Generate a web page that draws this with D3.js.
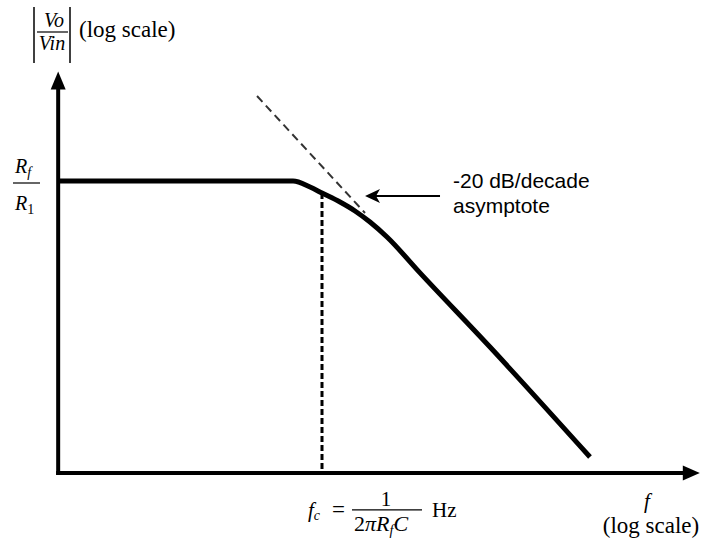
<!DOCTYPE html>
<html>
<head>
<meta charset="utf-8">
<script src="https://d3js.org/d3.v7.min.js"></script>
<style>
  body { margin: 0; background: #fff; }
  .math { font-family: "Liberation Serif", "Times New Roman", serif; fill: #000; }
  .note { font-family: "Liberation Sans", Arial, sans-serif; fill: #000; }
</style>
</head>
<body>
<svg id="chart" width="701" height="540"></svg>
<script>
// frequency (Hz) and gain (ratio to Rf/R1)
const curveF    = [2.3, 513, 759, 1000, 1514, 2138, 3020, 4467, 9550, 47860, 478600];
const curveGain = [1,   1,   0.880, 0.774, 0.639, 0.528, 0.417, 0.303, 0.141, 0.0290, 0.00278];

// -20 dB/decade asymptote (dashed)
const asymF    = [224, 2692];
const asymGain = [6.12, 0.506];

// corner frequency
const fc = 1000;
const fcGain = 0.774;

// axis extents
const axisF    = [2.3, 6.0e6];
const axisGain = [0.00198, 10.3];

// annotation arrow
const noteF = [15140, 2692];
const noteGain = 0.726;

const svg = d3.select("#chart");

// log-log scales: 100 px per decade on f, 108 px per decade on gain
const x = d3.scaleLog().domain([100, 10000]).range([222, 422]);
const y = d3.scaleLog().domain([0.01, 1]).range([397, 181]);

const x0 = x(axisF[0]), x1 = x(axisF[1]);
const y0 = y(axisGain[0]), y1 = y(axisGain[1]);

// axes
svg.append("line")
  .attr("x1", x0).attr("y1", y0 + 2)
  .attr("x2", x0).attr("y2", y1 + 14)
  .attr("stroke", "#000").attr("stroke-width", 4);
svg.append("path")
  .attr("d", `M${x0},${y1} L${x0 - 7.5},${y1 + 18} L${x0 + 7.5},${y1 + 18} Z`)
  .attr("fill", "#000");

svg.append("line")
  .attr("x1", x0 - 2).attr("y1", y0)
  .attr("x2", x1 - 14).attr("y2", y0)
  .attr("stroke", "#000").attr("stroke-width", 4);
svg.append("path")
  .attr("d", `M${x1},${y0} L${x1 - 17},${y0 - 7.5} L${x1 - 17},${y0 + 7.5} Z`)
  .attr("fill", "#000");

// asymptote
svg.append("line")
  .attr("x1", x(asymF[0])).attr("y1", y(asymGain[0]))
  .attr("x2", x(asymF[1])).attr("y2", y(asymGain[1]))
  .attr("stroke", "#333").attr("stroke-width", 2)
  .attr("stroke-dasharray", "8,5");

// corner frequency marker
svg.append("line")
  .attr("x1", x(fc)).attr("y1", y(fcGain))
  .attr("x2", x(fc)).attr("y2", y0 - 2)
  .attr("stroke", "#000").attr("stroke-width", 3)
  .attr("stroke-dasharray", "6,3");

// response curve
const pts = curveF.map((f, i) => [f, curveGain[i]]);
svg.append("path")
  .datum(pts)
  .attr("d", d3.line().x(d => x(d[0])).y(d => y(d[1])).curve(d3.curveMonotoneX))
  .attr("fill", "none")
  .attr("stroke", "#000")
  .attr("stroke-width", 5)
  .attr("stroke-linejoin", "round");

// annotation arrow
const ax1 = x(noteF[0]), ax2 = x(noteF[1]), ay = y(noteGain);
svg.append("line")
  .attr("x1", ax1).attr("y1", ay)
  .attr("x2", ax2 + 8).attr("y2", ay)
  .attr("stroke", "#000").attr("stroke-width", 2);
svg.append("path")
  .attr("d", `M${ax2},${ay} L${ax2 + 15},${ay - 7} L${ax2 + 11},${ay} L${ax2 + 15},${ay + 7} Z`)
  .attr("fill", "#000");

svg.append("text").attr("class", "note")
  .attr("x", ax1 + 13).attr("y", ay - 8)
  .attr("font-size", 21).text("-20 dB/decade");
svg.append("text").attr("class", "note")
  .attr("x", ax1 + 13).attr("y", ay + 17)
  .attr("font-size", 21).text("asymptote");

// y label |Vo/Vin| (log scale)
svg.append("line").attr("x1", 34).attr("x2", 34).attr("y1", 7).attr("y2", 63)
  .attr("stroke", "#000").attr("stroke-width", 1.5);
svg.append("line").attr("x1", 70).attr("x2", 70).attr("y1", 7).attr("y2", 63)
  .attr("stroke", "#000").attr("stroke-width", 1.5);
svg.append("line").attr("x1", 37).attr("x2", 68).attr("y1", 32).attr("y2", 32)
  .attr("stroke", "#000").attr("stroke-width", 1.2);
svg.append("text").attr("class", "math").attr("font-style", "italic")
  .attr("font-size", 20).attr("x", 54).attr("y", 27).attr("text-anchor", "middle").text("Vo");
svg.append("text").attr("class", "math").attr("font-style", "italic")
  .attr("font-size", 20).attr("x", 52).attr("y", 50).attr("text-anchor", "middle").text("Vin");
svg.append("text").attr("class", "math")
  .attr("font-size", 23).attr("x", 79).attr("y", 37).text("(log scale)");

// Rf / R1 at the pass-band level
const gy = y(1);
svg.append("line").attr("x1", 13).attr("x2", 40).attr("y1", gy + 2).attr("y2", gy + 2)
  .attr("stroke", "#000").attr("stroke-width", 1.2);
const rf = svg.append("text").attr("class", "math").attr("font-size", 20)
  .attr("x", 15).attr("y", gy - 8);
rf.append("tspan").attr("font-style", "italic").text("R");
rf.append("tspan").attr("font-style", "italic").attr("font-size", 14).attr("dy", 4).text("f");
const r1 = svg.append("text").attr("class", "math").attr("font-size", 20)
  .attr("x", 15).attr("y", gy + 29);
r1.append("tspan").attr("font-style", "italic").text("R");
r1.append("tspan").attr("font-size", 14).attr("dy", 4).text("1");

// fc label under the x axis
const fx = x(fc);
const fcl = svg.append("text").attr("class", "math").attr("font-size", 21)
  .attr("x", fx - 14).attr("y", y0 + 44);
fcl.append("tspan").attr("font-style", "italic").text("f");
fcl.append("tspan").attr("font-style", "italic").attr("font-size", 14).attr("dy", 3).text("c");
svg.append("text").attr("class", "math").attr("font-size", 23)
  .attr("x", fx + 10).attr("y", y0 + 44).text("=");
svg.append("line").attr("x1", fx + 30).attr("x2", fx + 100).attr("y1", y0 + 37).attr("y2", y0 + 37)
  .attr("stroke", "#000").attr("stroke-width", 1.2);
svg.append("text").attr("class", "math").attr("font-size", 21)
  .attr("x", fx + 64).attr("y", y0 + 33).attr("text-anchor", "middle").text("1");
const den = svg.append("text").attr("class", "math").attr("font-size", 22)
  .attr("x", fx + 32).attr("y", y0 + 58);
den.append("tspan").text("2");
den.append("tspan").attr("font-style", "italic").text("π");
den.append("tspan").attr("font-style", "italic").text("R");
den.append("tspan").attr("font-style", "italic").attr("font-size", 14).attr("dy", 4).text("f");
den.append("tspan").attr("font-style", "italic").attr("dy", -4).text("C");
svg.append("text").attr("class", "math").attr("font-size", 21)
  .attr("x", fx + 110).attr("y", y0 + 44).text("Hz");

// f (log scale) at the end of the x axis
svg.append("text").attr("class", "math").attr("font-style", "italic").attr("font-size", 21)
  .attr("x", 647).attr("y", y0 + 35).attr("text-anchor", "middle").text("f");
svg.append("text").attr("class", "math").attr("font-size", 23)
  .attr("x", 651).attr("y", y0 + 60).attr("text-anchor", "middle").text("(log scale)");
</script>
</body>
</html>
